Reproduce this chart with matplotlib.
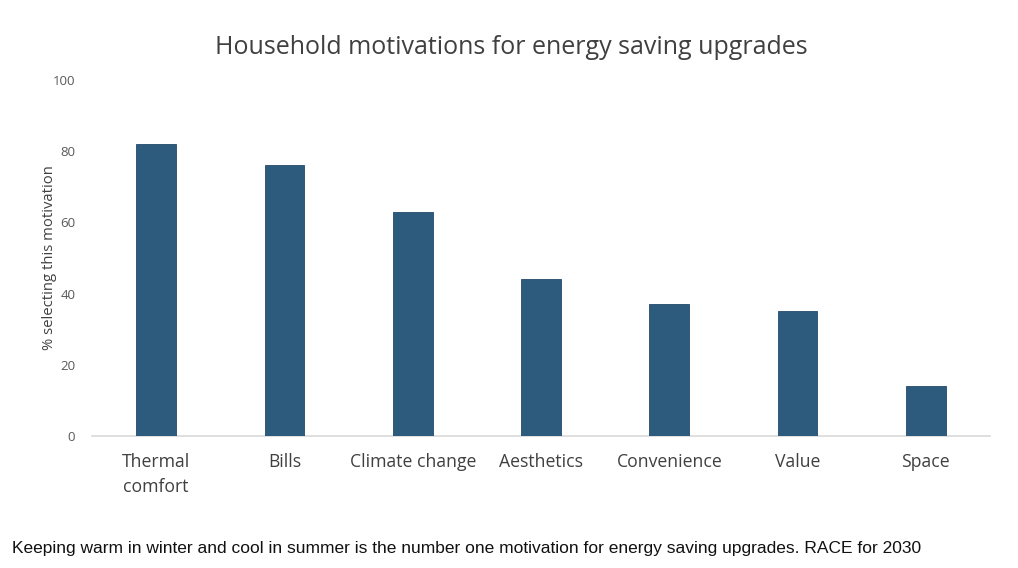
import matplotlib
matplotlib.use("Agg")
import matplotlib.pyplot as plt
import numpy as np

categories = ["Thermal\ncomfort", "Bills", "Climate change", "Aesthetics",
              "Convenience", "Value", "Space"]
values = [82, 76, 63, 44, 37, 35, 14]
yticks = [0, 20, 40, 60, 80, 100]

title = "Household motivations for energy saving upgrades"
ylabel = "% selecting this motivation"
caption = ("Keeping warm in winter and cool in summer is the number one motivation "
           "for energy saving upgrades. RACE for 2030")

bar_color = "#2d5b7d"
text_color = "#595959"

fig = plt.figure(figsize=(10.18, 5.68), dpi=100)
ax = fig.add_axes([92 / 1018, 1 - 436 / 568, (990 - 92) / 1018, (436 - 80) / 568])

x = np.arange(len(categories))
ax.bar(x, values, width=0.31, color=bar_color, edgecolor="#24496a", linewidth=0.6, zorder=3)

ax.set_xlim(-0.5, len(categories) - 0.5)
ax.set_ylim(0, 100)
ax.set_yticks(yticks)
ax.set_yticklabels([str(t) for t in yticks], fontsize=9.5, color=text_color,
                   family="Open Sans")
ax.set_xticks(x)
ax.set_xticklabels(categories, fontsize=12.7, color="#404040", family="Open Sans",
                   linespacing=1.5)
ax.tick_params(axis="both", length=0)
ax.tick_params(axis="x", pad=12)
ax.tick_params(axis="y", pad=12)

for side in ["top", "right", "left"]:
    ax.spines[side].set_visible(False)
ax.spines["bottom"].set_color("#d9d9d9")
ax.spines["bottom"].set_linewidth(1.2)

ax.set_ylabel(ylabel, fontsize=10.7, color="#404040", family="Open Sans", labelpad=-3)

fig.text(511 / 1018, 1 - 47 / 568, title, ha="center", va="center",
         fontsize=18, color="#404040", family="Open Sans")
fig.text(12 / 1018, 1 - 549 / 568, caption, ha="left", va="center",
         fontsize=12.5, color="#111111", family="Liberation Sans")

fig.savefig("out.png", dpi=100)
